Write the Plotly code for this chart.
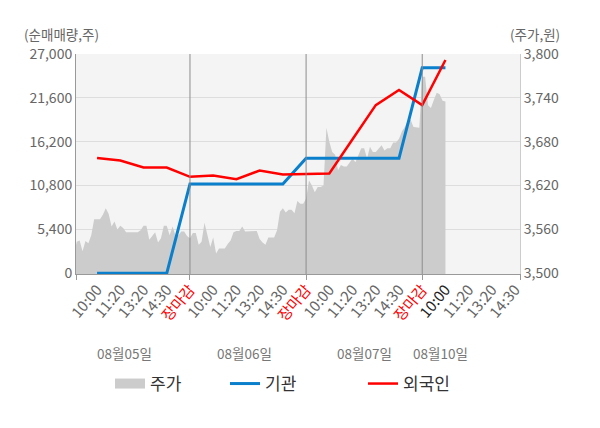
import plotly.graph_objects as go

# 주가 (원): 하루를 40개 구간으로 나눠 그림에서 읽은 값
price_0805 = [3526, 3543, 3545, 3530, 3544, 3541, 3552, 3574, 3574, 3574,
              3580, 3589, 3581, 3564, 3571, 3560, 3565, 3562, 3556, 3556,
              3556, 3556, 3556, 3559, 3565, 3565, 3546, 3551, 3556, 3542,
              3548, 3565, 3565, 3552, 3564, 3552, 3552, 3557, 3557, 3551]
price_0806 = [3548, 3555, 3555, 3539, 3543, 3569, 3552, 3536, 3549, 3527,
              3534, 3534, 3534, 3540, 3545, 3556, 3558, 3558, 3564, 3557,
              3557, 3558, 3558, 3558, 3547, 3542, 3539, 3549, 3549, 3549,
              3559, 3584, 3589, 3583, 3587, 3587, 3582, 3599, 3595, 3595]
price_0807 = [3602, 3627, 3620, 3611, 3618, 3618, 3620, 3699, 3680, 3666,
              3662, 3641, 3648, 3646, 3646, 3652, 3657, 3652, 3662, 3671,
              3671, 3657, 3673, 3666, 3666, 3671, 3675, 3668, 3671, 3671,
              3679, 3679, 3684, 3694, 3700, 3708, 3710, 3700, 3699, 3699]
price_0810 = [3769, 3769, 3730, 3726, 3737, 3747, 3745, 3736, 3735]

# 순매매량 (주), 시간 구간별
inst_net = [0, 0, 0, 0, 11000, 11000, 11000, 11000, 11000,
            14150, 14150, 14150, 14150, 14150, 25300, 25300]
foreign_net = [14180, 13890, 13020, 13020, 11880, 12040, 11590, 12650, 12160,
               12200, 12280, 16500, 20700, 22560, 20700, 26260]

dates = ["08월05일", "08월06일", "08월07일", "08월10일"]
time_labels = ["10:00", "11:20", "13:20", "14:30", "장마감"]

vol_ticks = [0, 5400, 10800, 16200, 21600, 27000]
price_ticks = [3500, 3560, 3620, 3680, 3740, 3800]

SLOTS = 5      # 하루당 라벨 구간
PTS = 40       # 하루당 주가 샘플
FONT = "Noto Sans CJK KR"

price_days = [price_0805, price_0806, price_0807, price_0810]
price_x, price_y = [], []
for d, vals in enumerate(price_days):
    for i, v in enumerate(vals):
        price_x.append(d * SLOTS + i * SLOTS / PTS)
        price_y.append(v)

net_x = list(range(1, len(inst_net) + 1))

# x축 라벨
tickvals, ticktext = [], []
for d in range(len(dates)):
    labels = time_labels if d < len(dates) - 1 else time_labels[:-1]
    for j, lab in enumerate(labels):
        tickvals.append(d * SLOTS + j + 1)
        if lab == "장마감":
            ticktext.append('<span style="color:#ff0000">%s</span>' % lab)
        elif d == len(dates) - 1 and j == 0:
            ticktext.append('<span style="color:#222222">%s</span>' % lab)
        else:
            ticktext.append(lab)

x_range = [0.093, 19.21]

fig = go.Figure()
fig.add_trace(go.Scatter(
    x=price_x, y=price_y, yaxis="y", mode="lines", fill="tozeroy",
    line=dict(width=0, color="#cccccc"), fillcolor="#cccccc",
    showlegend=False, hoverinfo="skip"))
# 범례 표시용
fig.add_trace(go.Scatter(
    x=[None], y=[None], mode="lines", name="주가", legend="legend",
    line=dict(color="#cccccc", width=10)))
fig.add_trace(go.Scatter(
    x=net_x, y=inst_net, yaxis="y2", mode="lines", name="기관", legend="legend2",
    line=dict(color="#0a7fcc", width=3)))
fig.add_trace(go.Scatter(
    x=net_x, y=foreign_net, yaxis="y2", mode="lines", name="외국인", legend="legend3",
    line=dict(color="#ff0000", width=2.5)))

# 장마감 구분선
for d in range(1, len(dates)):
    fig.add_shape(type="line", xref="x", yref="paper", x0=d * SLOTS, x1=d * SLOTS,
                  y0=0, y1=1, line=dict(color="#8c8c8c", width=1), layer="above")

annotations = [
    dict(text="(순매매량,주)", xref="paper", yref="paper", x=-0.1216, y=1.09,
         xanchor="left", yanchor="middle", showarrow=False,
         font=dict(size=13.5, color="#666666")),
    dict(text="(주가,원)", xref="paper", yref="paper", x=1.094, y=1.09,
         xanchor="right", yanchor="middle", showarrow=False,
         font=dict(size=13.5, color="#666666")),
]
date_pos = [2.19, 7.34, 12.53, 15.78]
for lab, xp in zip(dates, date_pos):
    annotations.append(dict(text=lab, xref="x", yref="paper", x=xp, y=-0.357,
                            xanchor="center", yanchor="middle", showarrow=False,
                            font=dict(size=13.5, color="#777777")))

legend_px = [115, 230, 368]
leg = {}
for k, px in zip(["legend", "legend2", "legend3"], legend_px):
    leg[k] = dict(x=(px - 5 - 76) / 444, y=-0.5, xanchor="left", yanchor="middle",
                  orientation="h", font=dict(size=17, color="#333333"),
                  bgcolor="rgba(0,0,0,0)")

fig.update_layout(
    width=600, height=428,
    margin=dict(l=76, r=80, t=54, b=154),
    paper_bgcolor="#ffffff", plot_bgcolor="#f4f4f4",
    font=dict(family=FONT, color="#666666"),
    xaxis=dict(range=x_range, tickmode="array", tickvals=tickvals, ticktext=ticktext,
               tickangle=-50, tickfont=dict(size=15, color="#666666"),
               showgrid=False, zeroline=False, showline=True, linecolor="#999999",
               ticks="",
               minor=dict(tickmode="array", tickvals=[x_range[0], 5, 10, 15, x_range[1]],
                          ticks="outside", ticklen=5, tickcolor="#999999", showgrid=False)),
    yaxis=dict(side="right", range=[3499, 3800], tickmode="array", tickvals=price_ticks,
               ticktext=["{:,}".format(v) for v in price_ticks],
               tickfont=dict(size=14, color="#666666"), gridcolor="#dddddd",
               zeroline=False, showline=True, linecolor="#cccccc", ticks=""),
    yaxis2=dict(side="left", overlaying="y", range=[-90, 27000], tickmode="array",
                tickvals=vol_ticks, ticktext=["{:,}".format(v) for v in vol_ticks],
                tickfont=dict(size=14, color="#666666"), showgrid=False,
                zeroline=False, showline=True, linecolor="#999999", ticks=""),
    annotations=annotations,
    **leg,
)

fig.write_html("out.html", config={"displayModeBar": False},
               post_script="document.body.style.margin='0';")
